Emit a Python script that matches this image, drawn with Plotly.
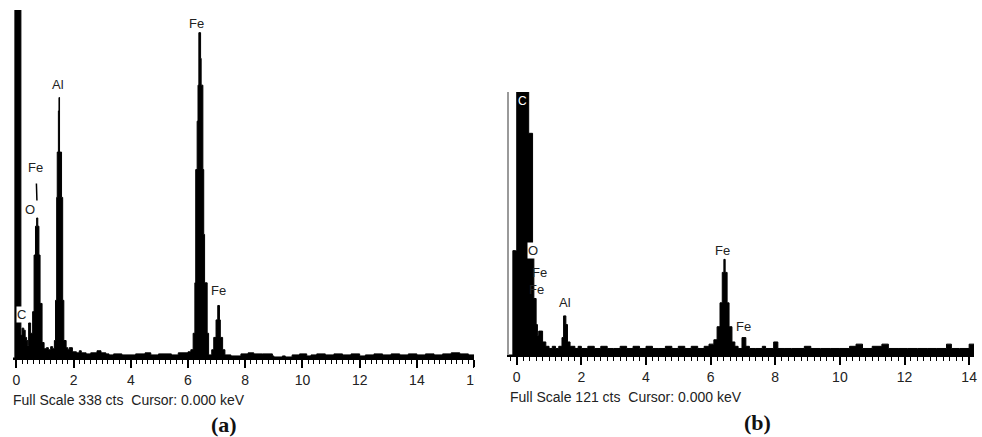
import plotly.graph_objects as go

# ---------------- data: panel (a) ----------------
a_energy = [-0.12, -0.05, 0.16, 0.20, 0.26, 0.31, 0.36, 0.40, 0.43, 0.50,
            0.57, 0.62, 0.67, 0.71, 0.75, 0.79, 0.83, 0.90, 0.97, 1.05,
            1.12, 1.20, 1.27, 1.33, 1.37, 1.41, 1.43, 1.47, 1.49, 1.51,
            1.58, 1.62, 1.66, 1.74, 1.80, 1.85, 1.96, 2.10, 2.20, 2.27,
            2.37, 2.44, 2.60, 2.82, 2.96, 3.13, 3.24, 3.40, 3.69, 4.17,
            4.50, 4.70, 4.97, 5.42, 5.66, 6.00, 6.10, 6.18, 6.24, 6.27,
            6.32, 6.35, 6.38, 6.44, 6.46, 6.52, 6.55, 6.58, 6.67, 6.72,
            6.83, 6.90, 6.98, 7.04, 7.10, 7.13, 7.21, 7.29, 7.50, 7.85,
            8.10, 8.30, 8.60, 8.95, 9.00, 9.30, 9.40, 9.64, 9.90, 10.15,
            10.30, 10.50, 10.80, 11.10, 11.40, 11.70, 12.00, 12.20, 12.50, 12.80,
            13.10, 13.40, 13.70, 14.00, 14.30, 14.60, 14.90, 15.20, 15.50, 15.80,
            16.00]
a_counts = [0, 400, 22, 29, 27, 20, 17, 12, 34, 24,
            45, 100, 128, 136, 128, 100, 53, 15, 9, 10,
            8, 11, 9, 17, 56, 156, 200, 240, 253, 200,
            156, 56, 17, 10, 8, 10, 6, 5, 7, 5,
            5, 4, 5, 7, 5, 4, 3, 4, 3, 4,
            5, 3, 4, 3, 5, 6, 8, 24, 73, 183,
            230, 265, 316, 291, 265, 183, 120, 73, 24, 3,
            8, 20, 37, 51, 37, 20, 8, 3, 2, 4,
            5, 4, 4, 2, 1, 2, 1, 3, 4, 2,
            3, 4, 3, 4, 3, 4, 2, 3, 4, 3,
            4, 3, 4, 3, 4, 3, 4, 5, 4, 3,
            0]
a_ticks = [0, 2, 4, 6, 8, 10, 12, 14, 16]
a_ticktext = ["0", "2", "4", "6", "8", "10", "12", "14", "16"]
a_labels = ["Fe", "Al", "Fe", "O", "C", "Fe"]
a_label_x = [6.31, 1.44, 0.72, 0.47, 0.19, 7.08]
a_label_y = [325, 266, 153, 144, 42, 66]

# ---------------- data: panel (b) ----------------
b_energy = [-0.245, -0.12, -0.03, 0.00, 0.37, 0.49, 0.53, 0.60, 0.64, 0.68,
            0.80, 0.90, 1.00, 1.10, 1.20, 1.30, 1.40, 1.45, 1.52, 1.57,
            1.65, 1.80, 1.90, 2.00, 2.20, 2.40, 2.60, 2.80, 3.00, 3.20,
            3.40, 3.60, 3.80, 4.00, 4.20, 4.40, 4.60, 4.80, 5.00, 5.20,
            5.40, 5.60, 5.80, 5.95, 6.10, 6.20, 6.29, 6.36, 6.41, 6.45,
            6.51, 6.57, 6.66, 6.75, 6.85, 6.97, 7.09, 7.20, 7.40, 7.60,
            7.70, 7.95, 8.08, 8.30, 8.50, 8.90, 9.10, 9.40, 9.70, 10.00,
            10.30, 10.50, 10.70, 11.00, 11.30, 11.50, 11.80, 12.10, 12.40, 12.70,
            13.00, 13.30, 13.45, 13.70, 14.00, 14.15]
b_counts = [0, 48, 48, 200, 102, 48, 26, 14, 9, 11,
            6, 4, 3, 4, 3, 4, 8, 18, 14, 6,
            4, 3, 4, 3, 4, 3, 4, 3, 3, 4,
            3, 4, 3, 4, 3, 3, 4, 3, 4, 3,
            4, 3, 4, 5, 7, 13, 24, 38, 44, 38,
            24, 13, 6, 4, 3, 8, 4, 3, 3, 4,
            3, 6, 3, 3, 3, 4, 3, 3, 3, 3,
            4, 5, 3, 4, 5, 3, 3, 3, 3, 3,
            3, 5, 3, 3, 5, 3]
b_ticks = [0, 2, 4, 6, 8, 10, 12, 14]
b_ticktext = ["0", "2", "4", "6", "8", "10", "12", "14"]
b_labels = ["O", "Fe", "Fe", "Al", "Fe", "Fe"]
b_label_x = [0.49, 0.71, 0.61, 1.50, 6.36, 7.03]
b_label_y = [48, 38, 30, 24, 48, 13]

W, H = 982, 437

def px_x(p):
    return p / W

def px_y(p):
    return 1 - p / H

fig = go.Figure()
fig.add_trace(go.Scatter(x=a_energy, y=a_counts, mode="lines",
                         line=dict(shape="hv", color="black", width=1),
                         fill="tozeroy", fillcolor="black",
                         xaxis="x", yaxis="y", hoverinfo="skip", showlegend=False))
fig.add_trace(go.Scatter(x=b_energy, y=b_counts, mode="lines",
                         line=dict(shape="hv", color="black", width=1),
                         fill="tozeroy", fillcolor="black",
                         xaxis="x2", yaxis="y2", hoverinfo="skip", showlegend=False))

tickfont = dict(family="Arial", size=14, color="#222")
common_x = dict(ticks="outside", ticklen=8, tickwidth=1.5, tickcolor="black",
                showline=True, linecolor="black", linewidth=2,
                showgrid=False, zeroline=False, tickfont=tickfont,
                minor=dict(ticks="outside", ticklen=4, dtick=0.2, tick0=0,
                           tickcolor="black", tickwidth=1))

fig.update_layout(
    width=W, height=H, margin=dict(l=0, r=0, t=0, b=0),
    paper_bgcolor="white", plot_bgcolor="white",
    xaxis=dict(domain=[px_x(13), px_x(478)], range=[-0.12, 16.0], anchor="y",
               tickmode="array", tickvals=a_ticks, ticktext=a_ticktext, **common_x),
    yaxis=dict(domain=[px_y(358), px_y(10)], range=[0, 338], anchor="x",
               visible=False),
    xaxis2=dict(domain=[px_x(513), 1.0], range=[-0.245, 14.15], anchor="y2",
                tickmode="array", tickvals=b_ticks, ticktext=b_ticktext, **common_x),
    yaxis2=dict(domain=[px_y(355), px_y(92)], range=[0, 121], anchor="x2",
                showline=True, linecolor="#9a9a9a", linewidth=2,
                showticklabels=False, ticks="", showgrid=False, zeroline=False),
)

label_font = dict(family="Arial", size=13, color="#222")
annotations = []
for i, (t, x, y) in enumerate(zip(a_labels, a_label_x, a_label_y)):
    ann = dict(text=t, x=x, y=y, xref="x", yref="y", showarrow=False,
               font=label_font, xanchor="center", yanchor="middle")
    if i == 2:
        ann.update(showarrow=True, arrowhead=0, arrowwidth=1.5, arrowcolor="black",
                   ax=-1, ay=-33, startstandoff=7)
    if t in ("O", "C"):
        ann.update(bgcolor="white", borderpad=0)
    annotations.append(ann)
for t, x, y in zip(b_labels, b_label_x, b_label_y):
    ann = dict(text=t, x=x, y=y, xref="x2", yref="y2", showarrow=False,
               font=label_font, xanchor="center", yanchor="middle")
    if t == "O":
        ann.update(bgcolor="white", borderpad=0)
    annotations.append(ann)
annotations.append(dict(text="C", x=0.18, y=117, xref="x2", yref="y2", showarrow=False,
                        font=dict(family="Arial", size=12, color="white")))

annotations += [
    dict(text="Full Scale 338 cts&nbsp; Cursor: 0.000 keV", x=px_x(11), y=px_y(400),
         xref="paper", yref="paper", xanchor="left", yanchor="middle", showarrow=False,
         font=dict(family="Arial", size=14, color="#222")),
    dict(text="Full Scale 121 cts&nbsp; Cursor: 0.000 keV", x=px_x(512), y=px_y(397),
         xref="paper", yref="paper", xanchor="left", yanchor="middle", showarrow=False,
         font=dict(family="Arial", size=14, color="#222")),
    dict(text="<b>(a)</b>", x=px_x(226), y=px_y(424), xref="paper", yref="paper",
         xanchor="center", yanchor="middle", showarrow=False,
         font=dict(family="Liberation Serif", size=22, color="#111")),
    dict(text="<b>(b)</b>", x=px_x(764), y=px_y(422), xref="paper", yref="paper",
         xanchor="center", yanchor="middle", showarrow=False,
         font=dict(family="Liberation Serif", size=22, color="#111")),
]
fig.update_layout(annotations=annotations)

# the reference crops the last tick label of panel (a)
fig.add_shape(type="rect", xref="paper", yref="paper",
              x0=px_x(478), x1=px_x(508), y0=px_y(395), y1=px_y(367),
              fillcolor="white", line=dict(width=0), layer="above")

fig.write_html("out.html")
